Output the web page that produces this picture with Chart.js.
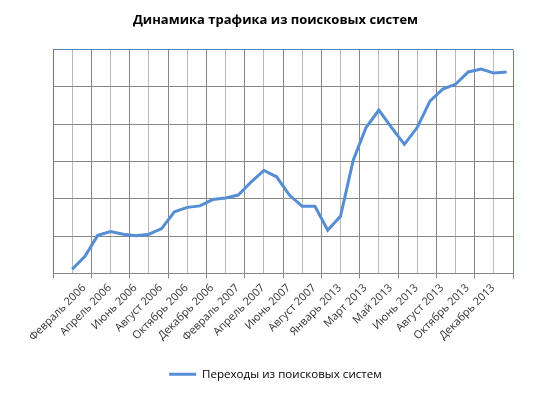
<!DOCTYPE html>
<html>
<head>
<meta charset="utf-8">
<script src="https://cdn.jsdelivr.net/npm/chart.js@4.4.0/dist/chart.umd.min.js"></script>
<style>
  html, body { margin: 0; padding: 0; background: #fff; }
  #wrap { width: 551px; height: 394px; position: relative; }
</style>
</head>
<body>
<div id="wrap"><canvas id="trafficChart"></canvas></div>
<script>
// подписи оси X (каждый второй месяц)
const tickLabels = [
  'Февраль 2006', 'Апрель 2006', 'Июнь 2006', 'Август 2006', 'Октябрь 2006',
  'Декабрь 2006', 'Февраль 2007', 'Апрель 2007', 'Июнь 2007', 'Август 2007',
  'Январь 2013', 'Март 2013', 'Май 2013', 'Июнь 2013', 'Август 2013',
  'Октябрь 2013', 'Декабрь 2013'
];

// переходы из поисковых систем (в делениях сетки)
const traffic = [
  0.11, 0.46, 1.02, 1.12, 1.05, 1.01, 1.05, 1.20, 1.65, 1.77,
  1.81, 1.98, 2.02, 2.10, 2.45, 2.76, 2.59, 2.10, 1.80, 1.80,
  1.16, 1.53, 3.04, 3.91, 4.38, 3.91, 3.46, 3.91, 4.62, 4.94,
  5.07, 5.40, 5.48, 5.37, 5.40
];

const seriesName = 'Переходы из поисковых систем';
const chartTitle = 'Динамика трафика из поисковых систем';

const FONT = "'Open Sans', sans-serif";
const BLUE = '#4f81bd';
const GRID_DARK = '#878787';
const GRID_LIGHT = '#bcbcbc';

// 36 категорий: первая пустая, подпись у каждой второй точки
const categories = [''];
traffic.forEach((v, i) => {
  categories.push(i % 2 === 0 && tickLabels[i / 2] ? tickLabels[i / 2] : ' ');
});

const ctx = document.getElementById('trafficChart').getContext('2d');
new Chart(ctx, {
  type: 'line',
  data: {
    labels: categories,
    datasets: [{
      label: seriesName,
      data: [null, ...traffic],
      borderColor: '#558ed5',
      backgroundColor: '#558ed5',
      borderWidth: 3,
      pointRadius: 0,
      tension: 0,
      fill: false
    }]
  },
  options: {
    responsive: true, maintainAspectRatio: false,
    animation: false,
    layout: { padding: { left: 0, right: 0, top: 0, bottom: 4 } },
    plugins: {
      title: {
        display: true,
        text: chartTitle,
        color: '#000',
        font: { family: FONT, size: 13, weight: 'bold' },
        padding: { top: 12, bottom: 22 }
      },
      legend: {
        position: 'bottom',
        labels: {
          color: '#000',
          font: { family: FONT, size: 11.6 },
          usePointStyle: true,
          pointStyle: 'line',
          pointStyleWidth: 27,
          padding: 10
        }
      },
      tooltip: { enabled: false }
    },
    scales: {
      x: {
        type: 'category',
        position: 'bottom',
        offset: true,
        grid: {
          offset: true,
          drawOnChartArea: false,
          tickLength: 5,
          tickColor: c => (c.index === undefined || c.index % 3 === 0) ? GRID_DARK : 'rgba(0,0,0,0)'
        },
        border: { color: GRID_DARK, width: 1 },
        ticks: {
          autoSkip: false,
          minRotation: 45, maxRotation: 45,
          labelOffset: 12,
          color: '#333',
          font: { family: FONT, size: 11 },
          callback: (v, i) => categories[i]
        },
        afterFit: s => { s.height = 85; }
      },
      xg: {
        type: 'linear',
        position: 'bottom',
        min: 0, max: 24,
        ticks: { display: false, stepSize: 1, maxTicksLimit: 30 },
        grid: {
          drawTicks: false,
          color: c => {
            const v = c.tick ? c.tick.value : 0;
            if (v === 0 || v === 24) return BLUE;
            return v % 2 === 0 ? GRID_DARK : GRID_LIGHT;
          }
        },
        border: { display: false }
      },
      y: {
        min: 0, max: 6,
        ticks: { display: false, stepSize: 1 },
        grid: {
          drawTicks: false,
          color: c => (c.tick && c.tick.value === 6) ? BLUE : GRID_DARK
        },
        border: { color: BLUE, width: 1 },
        afterFit: s => { s.width = 53; }
      },
      yr: {
        position: 'right',
        min: 0, max: 1,
        ticks: { display: false },
        grid: { display: false, drawTicks: false },
        border: { display: false },
        afterFit: s => { s.width = 38; }
      }
    }
  }
});
</script>
</body>
</html>
